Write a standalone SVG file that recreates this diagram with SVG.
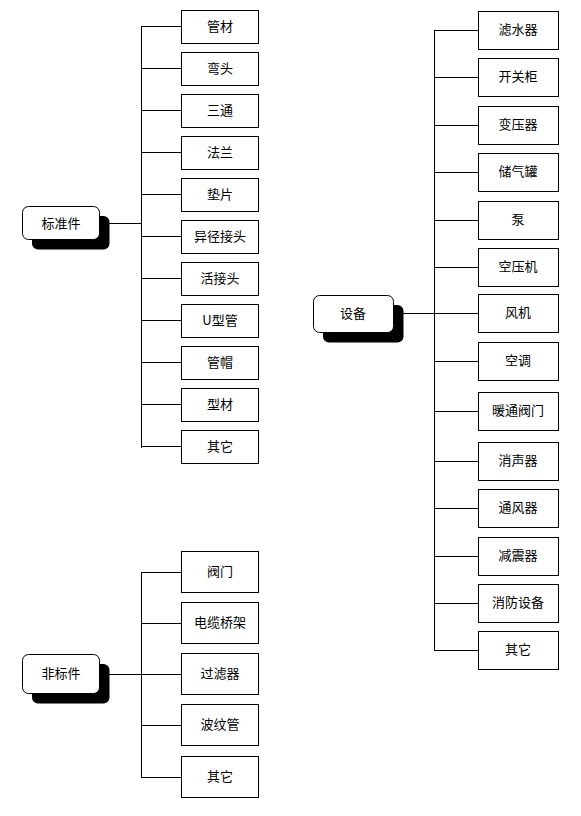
<svg xmlns="http://www.w3.org/2000/svg" width="581" height="816" viewBox="0 0 581 816">
<style>
.bg{fill:#ffffff}
.box{fill:#ffffff;stroke:#000000;stroke-width:1}
.root{fill:#ffffff;stroke:#000000;stroke-width:1}
.shadow{fill:#000000}
.ln{stroke:#000000;stroke-width:1;fill:none}
text{font-family:"Noto Sans CJK SC","Noto Sans",sans-serif;font-size:13px;fill:#000000;text-anchor:middle}
</style>
<rect class="bg" x="0" y="0" width="581" height="816"/>
<g id="connectors" shape-rendering="crispEdges">
<path class="ln" d="M109 223.5H141.5M141.5 26.5V447.5M141 26.5H181M141 68.5H181M141 110.5H181M141 152.5H181M141 194.5H181M141 236.5H181M141 278.5H181M141 320.5H181M141 362.5H181M141 404.5H181M141 446.5H181"/>
<path class="ln" d="M403 313.5H434.5M434.5 30.5V650.5M434 30.5H478M434 77.5H478M434 125.5H478M434 172.5H478M434 220.5H478M434 267.5H478M434 313.5H478M434 361.5H478M434 411.5H478M434 461.5H478M434 508.5H478M434 556.5H478M434 603.5H478M434 650.5H478"/>
<path class="ln" d="M109 674.5H141.5M141.5 572.5V777.5M141 572.5H181M141 623.5H181M141 674.5H181M141 725.5H181M141 777.5H181"/>
</g>
<g id="root-biaozhunjian">
<rect class="shadow" x="32" y="216" width="77.5" height="33.5" rx="6"/>
<rect class="root" x="22.5" y="206.5" width="77" height="33" rx="6"/>
<text x="61" y="227.5">标准件</text>
</g>
<g id="root-shebei">
<rect class="shadow" x="323" y="305" width="80.5" height="37.5" rx="6"/>
<rect class="root" x="313.5" y="295.5" width="80" height="37" rx="6"/>
<text x="353" y="318">设备</text>
</g>
<g id="root-feibiaojian">
<rect class="shadow" x="32" y="664" width="77.5" height="39.5" rx="6"/>
<rect class="root" x="22.5" y="654.5" width="77" height="39" rx="6"/>
<text x="61" y="678">非标件</text>
</g>
<g id="n-guancai"><rect class="box" x="181.5" y="10.5" width="77" height="33"/><text x="220" y="31">管材</text></g>
<g id="n-wantou"><rect class="box" x="181.5" y="52.5" width="77" height="33"/><text x="220" y="73">弯头</text></g>
<g id="n-santong"><rect class="box" x="181.5" y="94.5" width="77" height="33"/><text x="220" y="115">三通</text></g>
<g id="n-falan"><rect class="box" x="181.5" y="136.5" width="77" height="33"/><text x="220" y="157">法兰</text></g>
<g id="n-dianpian"><rect class="box" x="181.5" y="178.5" width="77" height="33"/><text x="220" y="199">垫片</text></g>
<g id="n-yijingjietou"><rect class="box" x="181.5" y="220.5" width="77" height="33"/><text x="220" y="241">异径接头</text></g>
<g id="n-huojietou"><rect class="box" x="181.5" y="262.5" width="77" height="33"/><text x="220" y="283">活接头</text></g>
<g id="n-uxingguan"><rect class="box" x="181.5" y="304.5" width="77" height="33"/><text x="220" y="325">U型管</text></g>
<g id="n-guanmao"><rect class="box" x="181.5" y="346.5" width="77" height="33"/><text x="220" y="367">管帽</text></g>
<g id="n-xingcai"><rect class="box" x="181.5" y="388.5" width="77" height="33"/><text x="220" y="409">型材</text></g>
<g id="n-qita1"><rect class="box" x="181.5" y="430.5" width="77" height="33"/><text x="220" y="451">其它</text></g>
<g id="n-lvshuiqi"><rect class="box" x="478.5" y="11.5" width="80" height="38"/><text x="518" y="34">滤水器</text></g>
<g id="n-kaiguangui"><rect class="box" x="478.5" y="58.5" width="80" height="38"/><text x="518" y="81">开关柜</text></g>
<g id="n-bianyaqi"><rect class="box" x="478.5" y="106.5" width="80" height="38"/><text x="518" y="129">变压器</text></g>
<g id="n-chuqiguan"><rect class="box" x="478.5" y="153.5" width="80" height="38"/><text x="518" y="176">储气罐</text></g>
<g id="n-beng"><rect class="box" x="478.5" y="201.5" width="80" height="38"/><text x="518" y="224">泵</text></g>
<g id="n-kongyaji"><rect class="box" x="478.5" y="248.5" width="80" height="38"/><text x="518" y="271">空压机</text></g>
<g id="n-fengji"><rect class="box" x="478.5" y="294.5" width="80" height="38"/><text x="518" y="317">风机</text></g>
<g id="n-kongtiao"><rect class="box" x="478.5" y="342.5" width="80" height="38"/><text x="518" y="365">空调</text></g>
<g id="n-nuantongfamen"><rect class="box" x="478.5" y="392.5" width="80" height="38"/><text x="518" y="415">暖通阀门</text></g>
<g id="n-xiaoshengqi"><rect class="box" x="478.5" y="442.5" width="80" height="38"/><text x="518" y="465">消声器</text></g>
<g id="n-tongfengqi"><rect class="box" x="478.5" y="489.5" width="80" height="38"/><text x="518" y="512">通风器</text></g>
<g id="n-jianzhenqi"><rect class="box" x="478.5" y="537.5" width="80" height="38"/><text x="518" y="560">减震器</text></g>
<g id="n-xiaofangshebei"><rect class="box" x="478.5" y="584.5" width="80" height="38"/><text x="518" y="607">消防设备</text></g>
<g id="n-qita2"><rect class="box" x="478.5" y="631.5" width="80" height="38"/><text x="518" y="654">其它</text></g>
<g id="n-famen"><rect class="box" x="181.5" y="551.5" width="77" height="41"/><text x="220" y="576">阀门</text></g>
<g id="n-dianlanqiaojia"><rect class="box" x="181.5" y="602.5" width="77" height="41"/><text x="220" y="627">电缆桥架</text></g>
<g id="n-guolvqi"><rect class="box" x="181.5" y="653.5" width="77" height="41"/><text x="220" y="678">过滤器</text></g>
<g id="n-bowenguan"><rect class="box" x="181.5" y="704.5" width="77" height="41"/><text x="220" y="729">波纹管</text></g>
<g id="n-qita3"><rect class="box" x="181.5" y="756.5" width="77" height="41"/><text x="220" y="781">其它</text></g>
</svg>
